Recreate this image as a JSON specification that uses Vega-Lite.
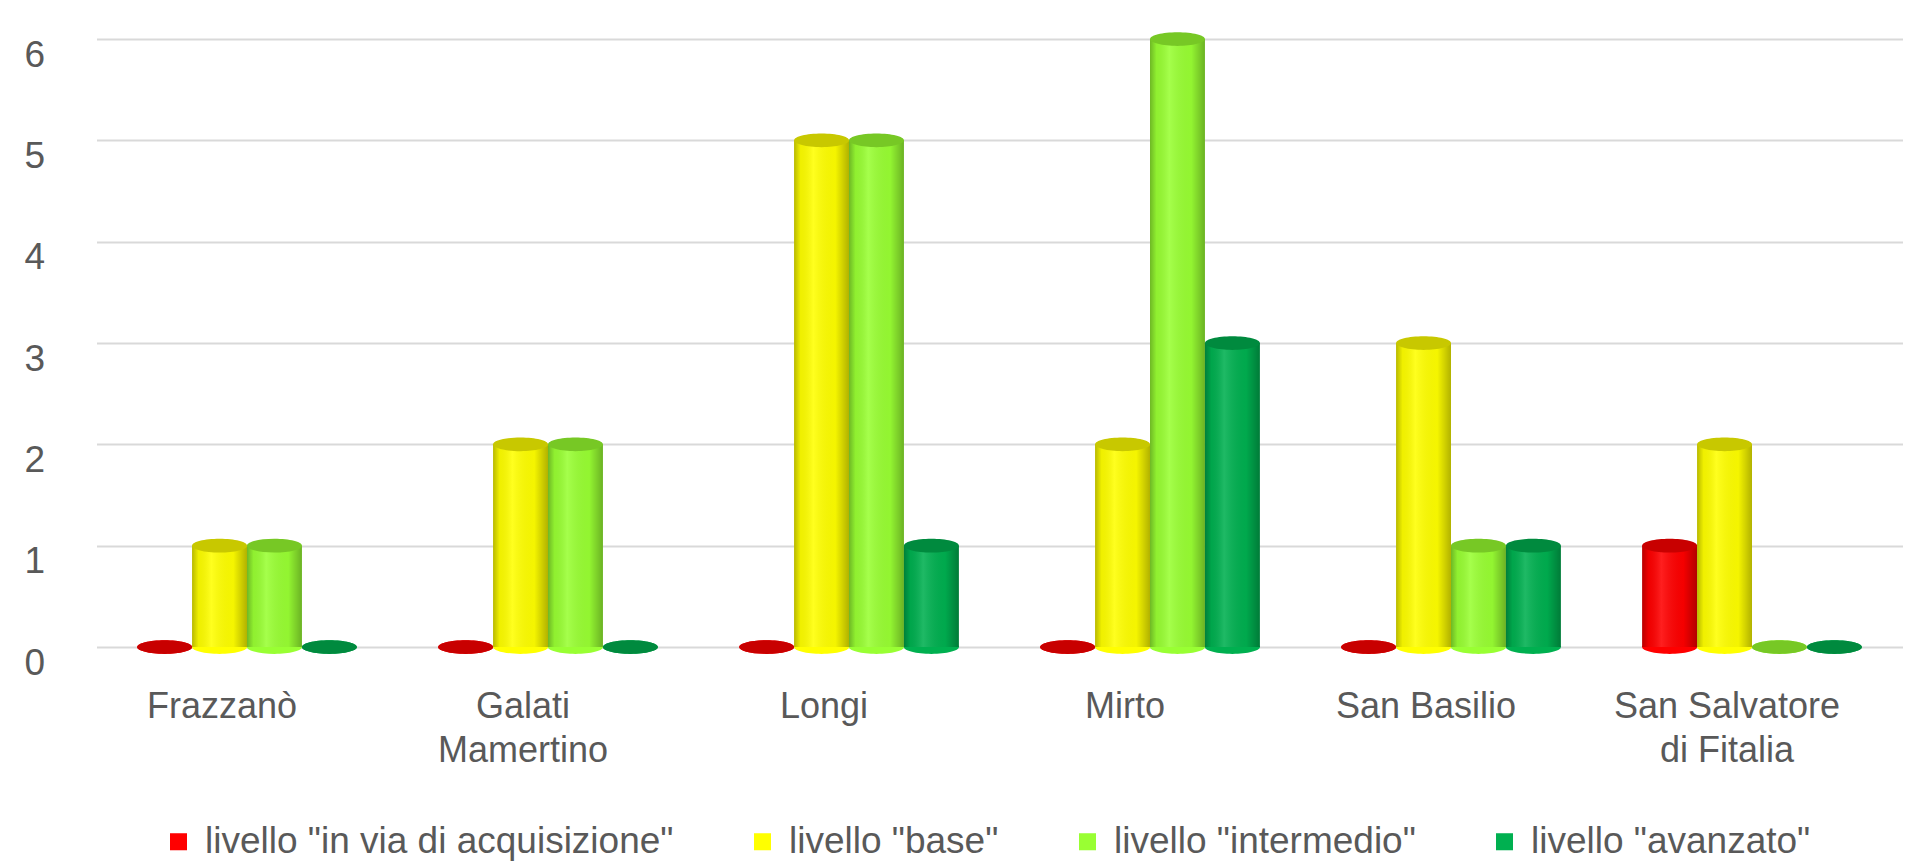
{
  "$schema": "https://vega.github.io/schema/vega-lite/v6.json",
  "width": 1806,
  "height": 608,
  "autosize": "none",
  "padding": {"left": 96.5, "top": 39, "right": 8.5, "bottom": 215},
  "background": "white",
  "config": {
    "view": {"stroke": null},
    "font": "Liberation Sans",
    "axisX": {"domain": false, "ticks": false, "grid": false, "labelFontSize": 36, "labelColor": "#595959", "labelPadding": 42, "labelOffset": -25, "labelAngle": 0, "labelLineHeight": 44, "labelBaseline": "top", "labelLimit": 500, "labelFont": "Liberation Sans"},
    "axisY": {"domain": false, "ticks": false, "grid": true, "gridColor": "#D9D9D9", "gridWidth": 2, "labelFontSize": 37, "labelColor": "#595959", "labelPadding": 52, "labelOffset": 16, "format": "d", "labelFont": "Liberation Sans"},
    "legend": {"labelFont": "Liberation Sans"}
  },
  "data": {"values": [
    {"comune": "Frazzanò", "livello": "livello \"in via di acquisizione\"", "n": 0},
    {"comune": "Frazzanò", "livello": "livello \"base\"", "n": 1},
    {"comune": "Frazzanò", "livello": "livello \"intermedio\"", "n": 1},
    {"comune": "Frazzanò", "livello": "livello \"avanzato\"", "n": 0},
    {"comune": "Galati Mamertino", "livello": "livello \"in via di acquisizione\"", "n": 0},
    {"comune": "Galati Mamertino", "livello": "livello \"base\"", "n": 2},
    {"comune": "Galati Mamertino", "livello": "livello \"intermedio\"", "n": 2},
    {"comune": "Galati Mamertino", "livello": "livello \"avanzato\"", "n": 0},
    {"comune": "Longi", "livello": "livello \"in via di acquisizione\"", "n": 0},
    {"comune": "Longi", "livello": "livello \"base\"", "n": 5},
    {"comune": "Longi", "livello": "livello \"intermedio\"", "n": 5},
    {"comune": "Longi", "livello": "livello \"avanzato\"", "n": 1},
    {"comune": "Mirto", "livello": "livello \"in via di acquisizione\"", "n": 0},
    {"comune": "Mirto", "livello": "livello \"base\"", "n": 2},
    {"comune": "Mirto", "livello": "livello \"intermedio\"", "n": 6},
    {"comune": "Mirto", "livello": "livello \"avanzato\"", "n": 3},
    {"comune": "San Basilio", "livello": "livello \"in via di acquisizione\"", "n": 0},
    {"comune": "San Basilio", "livello": "livello \"base\"", "n": 3},
    {"comune": "San Basilio", "livello": "livello \"intermedio\"", "n": 1},
    {"comune": "San Basilio", "livello": "livello \"avanzato\"", "n": 1},
    {"comune": "San Salvatore di Fitalia", "livello": "livello \"in via di acquisizione\"", "n": 1},
    {"comune": "San Salvatore di Fitalia", "livello": "livello \"base\"", "n": 2},
    {"comune": "San Salvatore di Fitalia", "livello": "livello \"intermedio\"", "n": 0},
    {"comune": "San Salvatore di Fitalia", "livello": "livello \"avanzato\"", "n": 0}
  ]},
  "encoding": {
    "x": {"field": "comune", "type": "nominal", "sort": null, "title": null,
      "scale": {"paddingInner": 0.27, "paddingOuter": 0.135},
      "axis": {"labelExpr": "datum.label == 'Galati Mamertino' ? ['Galati', 'Mamertino'] : datum.label == 'San Salvatore di Fitalia' ? ['San Salvatore', 'di Fitalia'] : datum.label"}},
    "xOffset": {"field": "livello", "type": "nominal", "sort": ["livello \"in via di acquisizione\"", "livello \"base\"", "livello \"intermedio\"", "livello \"avanzato\""], "scale": {"paddingInner": 0, "paddingOuter": 0}}
  },
  "layer": [
    {
      "mark": {"type": "bar", "stroke": null},
      "encoding": {
        "y": {"field": "n", "type": "quantitative", "title": null, "scale": {"domain": [0, 6], "nice": false}, "axis": {"values": [0, 1, 2, 3, 4, 5, 6]}},
        "color": {"field": "livello", "type": "nominal",
          "scale": {"domain": ["livello \"in via di acquisizione\"", "livello \"base\"", "livello \"intermedio\"", "livello \"avanzato\""], "range": ["#FF0000", "#FFFF00", "#99FF33", "#00B050"]},
          "legend": {"orient": "none", "legendX": 63.5, "legendY": 784, "direction": "horizontal", "title": null, "symbolType": "square", "symbolSize": 290, "symbolStrokeWidth": 0, "labelFontSize": 37, "labelColor": "#595959", "labelOffset": 8, "columnPadding": 70, "labelLimit": 700}}
      }
    },
    {
      "mark": {"type": "point", "shape": "M-1,0A1,0.25,0,1,0,1,0A1,0.25,0,1,0,-1,0Z", "size": 3025, "filled": true, "opacity": 1, "strokeWidth": 0},
      "encoding": {
        "y": {"datum": 0, "type": "quantitative", "title": null},
        "color": {"field": "livello", "type": "nominal"}
      }
    },
    {
      "mark": {"type": "bar", "stroke": null, "color": {"gradient": "linear", "x1": 0, "x2": 1, "y1": 0, "y2": 0, "stops": [
        {"offset": 0, "color": "rgba(0,0,0,0.28)"},
        {"offset": 0.12, "color": "rgba(0,0,0,0.06)"},
        {"offset": 0.35, "color": "rgba(255,255,255,0.12)"},
        {"offset": 0.75, "color": "rgba(0,0,0,0.04)"},
        {"offset": 1, "color": "rgba(0,0,0,0.3)"}]}},
      "encoding": {
        "y": {"field": "n", "type": "quantitative", "title": null}
      }
    },
    {
      "mark": {"type": "point", "shape": "M-1,0A1,0.25,0,1,0,1,0A1,0.25,0,1,0,-1,0Z", "size": 3025, "filled": true, "opacity": 1, "strokeWidth": 0},
      "encoding": {
        "y": {"field": "n", "type": "quantitative", "title": null},
        "fill": {"field": "livello", "type": "nominal", "legend": null,
          "scale": {"domain": ["livello \"in via di acquisizione\"", "livello \"base\"", "livello \"intermedio\"", "livello \"avanzato\""], "range": ["#C80000", "#C8C800", "#77C825", "#008A3E"]}}
      }
    }
  ]
}
